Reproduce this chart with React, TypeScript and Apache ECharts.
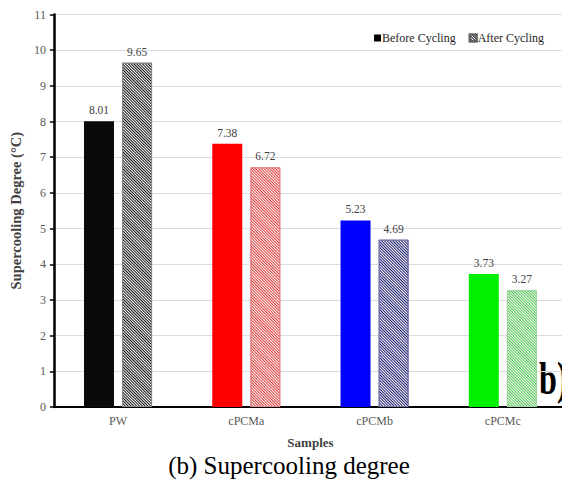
import React, { useEffect, useRef } from "react";
import * as echarts from "echarts";

const categories = ["PW", "cPCMa", "cPCMb", "cPCMc"];
const beforeCycling = [8.01, 7.38, 5.23, 3.73];
const afterCycling = [9.65, 6.72, 4.69, 3.27];
const yTicks = [0, 11, 1]; // min, max, interval

const solidColors = ["#0a0a0a", "#ff0000", "#0000ff", "#00f000"];
const stripeColors = ["#111111", "#d83a3a", "#1c1c70", "#4fc24f"];
const stripeBorders = ["#8a8a8a", "#e88a8a", "#7a7ab0", "#9ad89a"];

const SERIF = "Liberation Serif";

function hatch(color: string) {
  return {
    symbol: "rect",
    symbolSize: 1,
    color,
    backgroundColor: "#ffffff",
    dashArrayX: [1, 0],
    dashArrayY: [1, 1],
    rotation: Math.PI / 4,
  };
}

export default function App() {
  const ref = useRef<HTMLDivElement>(null);

  useEffect(() => {
    if (!ref.current) return;
    const chart = echarts.init(ref.current, null, { renderer: "svg" });

    const labelStyle = {
      show: true,
      position: "top" as const,
      distance: 5,
      fontFamily: SERIF,
      fontSize: 11.5,
      color: "#404040",
      formatter: (p: any) => Number(p.value).toFixed(2),
    };

    chart.setOption({
      animation: false,
      backgroundColor: "#ffffff",
      textStyle: { fontFamily: SERIF },
      legend: {
        data: ["Before Cycling", "After Cycling"],
        top: 27,
        right: 21,
        icon: "rect",
        itemWidth: 7,
        itemHeight: 7,
        itemGap: 13,
        textStyle: { fontFamily: SERIF, fontSize: 12, color: "#262626", padding: [0, 0, 0, -4] },
      },
      grid: { left: 47, right: 3, top: 14.5, bottom: 73 },
      xAxis: {
        type: "category",
        data: categories,
        axisLine: { show: true, lineStyle: { color: "#000", width: 2 } },
        axisTick: { show: false },
        axisLabel: { fontFamily: SERIF, fontSize: 12, color: "#595959", margin: 8 },
        name: "Samples",
        nameLocation: "middle",
        nameGap: 29,
        nameTextStyle: { fontFamily: SERIF, fontSize: 13, fontWeight: "bold", color: "#404040" },
      },
      yAxis: {
        type: "value",
        min: yTicks[0],
        max: yTicks[1],
        interval: yTicks[2],
        axisLine: { show: true, lineStyle: { color: "#000", width: 2.5 } },
        axisTick: { show: true, length: 4, lineStyle: { color: "#000", width: 1.5 } },
        axisLabel: { fontFamily: SERIF, fontSize: 12, color: "#595959", margin: 8 },
        splitLine: { show: true, lineStyle: { color: "#dcdcdc", width: 1 } },
        name: "Supercooling Degree (°C)",
        nameLocation: "middle",
        nameGap: 22,
        nameTextStyle: { fontFamily: SERIF, fontSize: 14.5, fontWeight: "bold", color: "#404040" },
      },
      series: [
        {
          name: "Before Cycling",
          type: "bar",
          barWidth: 30,
          barGap: "27%",
          itemStyle: { color: "#000" },
          label: labelStyle,
          data: beforeCycling.map((v, i) => ({
            value: v,
            itemStyle: { color: solidColors[i] },
          })),
        },
        {
          name: "After Cycling",
          type: "bar",
          barWidth: 30,
          barGap: "27%",
          itemStyle: { color: "#ffffff", borderColor: "#666", borderWidth: 1, decal: hatch("#111") },
          label: labelStyle,
          data: afterCycling.map((v, i) => ({
            value: v,
            itemStyle: {
              color: "#ffffff",
              borderColor: stripeBorders[i],
              borderWidth: 1,
              decal: hatch(stripeColors[i]),
            },
          })),
        },
      ],
      graphic: [
        {
          type: "text",
          x: 289,
          y: 465,
          style: {
            text: "(b) Supercooling degree",
            font: `25px ${SERIF}`,
            fill: "#000",
            textAlign: "center",
            textVerticalAlign: "middle",
          },
        },
        {
          type: "text",
          x: 539,
          y: 379,
          scaleX: 0.7,
          style: {
            text: "b)",
            font: `bold 46px ${SERIF}`,
            fill: "#000",
            textAlign: "left",
            textVerticalAlign: "middle",
          },
        },
      ],
    });

    return () => chart.dispose();
  }, []);

  return <div ref={ref} style={{ width: 570, height: 480, marginLeft: -8, marginTop: -8 }} />;
}
